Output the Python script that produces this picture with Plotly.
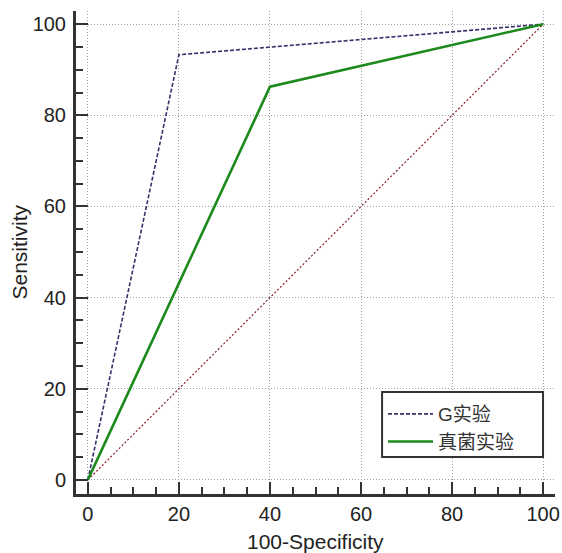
import plotly.graph_objects as go

# ROC data
g_x = [0, 20, 100]
g_y = [0, 93.3, 100]
fungi_x = [0, 40, 100]
fungi_y = [0, 86.3, 100]
ref_x = [0, 100]
ref_y = [0, 100]
tick_vals = [0, 20, 40, 60, 80, 100]

FONT = "Liberation Sans, Arial, Noto Sans CJK SC, sans-serif"

fig = go.Figure()

# reference diagonal
fig.add_trace(go.Scatter(
    x=ref_x, y=ref_y, mode="lines",
    line=dict(color="#8b1c2c", width=1.2, dash="2px,2px"),
    showlegend=False, hoverinfo="skip"
))

fig.add_trace(go.Scatter(
    x=g_x, y=g_y, mode="lines", name="G实验",
    line=dict(color="#34346a", width=1.6, dash="4px,2px")
))

fig.add_trace(go.Scatter(
    x=fungi_x, y=fungi_y, mode="lines", name="真菌实验",
    line=dict(color="#1c8a1c", width=2.6)
))

axis_common = dict(
    showgrid=True, gridcolor="#a0a0a0", griddash="1px,2px", gridwidth=1,
    zeroline=False, automargin=False,
    showline=True, linecolor="#333333", linewidth=3,
    ticks="inside", ticklen=12, tickwidth=2, tickcolor="#333333",
    tickmode="array", tickvals=tick_vals,
    minor=dict(ticks="inside", ticklen=7, tickwidth=2, tickcolor="#333333",
               dtick=5, tick0=0, showgrid=False),
    tickfont=dict(size=20, color="#222222", family=FONT),
)

fig.update_xaxes(range=[-2.6, 102.6], **axis_common)
fig.update_yaxes(range=[-3.1, 102.9], ticklabelstandoff=3, **axis_common)

# axis titles
fig.add_annotation(text="100-Specificity", xref="paper", yref="paper",
                   x=0.5, y=0, xanchor="center", yanchor="middle",
                   yshift=-47, showarrow=False,
                   font=dict(size=21, color="#222222", family=FONT))
fig.add_annotation(text="Sensitivity", xref="paper", yref="paper",
                   x=0, y=0.5, xanchor="center", yanchor="middle",
                   xshift=-57, textangle=-90, showarrow=False,
                   font=dict(size=21, color="#222222", family=FONT))

# legend frame
fig.add_shape(type="rect", xref="paper", yref="paper",
              x0=0.639, x1=0.975, y0=0.0766, y1=0.2112,
              line=dict(color="#333333", width=2), fillcolor="white",
              layer="above")

fig.update_layout(
    width=562, height=553,
    margin=dict(l=76, r=7, t=11, b=59),
    plot_bgcolor="white", paper_bgcolor="white",
    font=dict(family=FONT, color="#222222"),
    legend=dict(
        x=0.641, y=0.205, xanchor="left", yanchor="top",
        bgcolor="rgba(0,0,0,0)", borderwidth=0,
        font=dict(size=19, family=FONT, color="#333333"),
        tracegroupgap=0, itemwidth=45,
    ),
)

# drop the default page margin so the figure sits at the window corner
fig.write_html("out.html", config={"displayModeBar": False},
               post_script="document.body.style.margin='0';document.body.style.overflow='hidden';")
